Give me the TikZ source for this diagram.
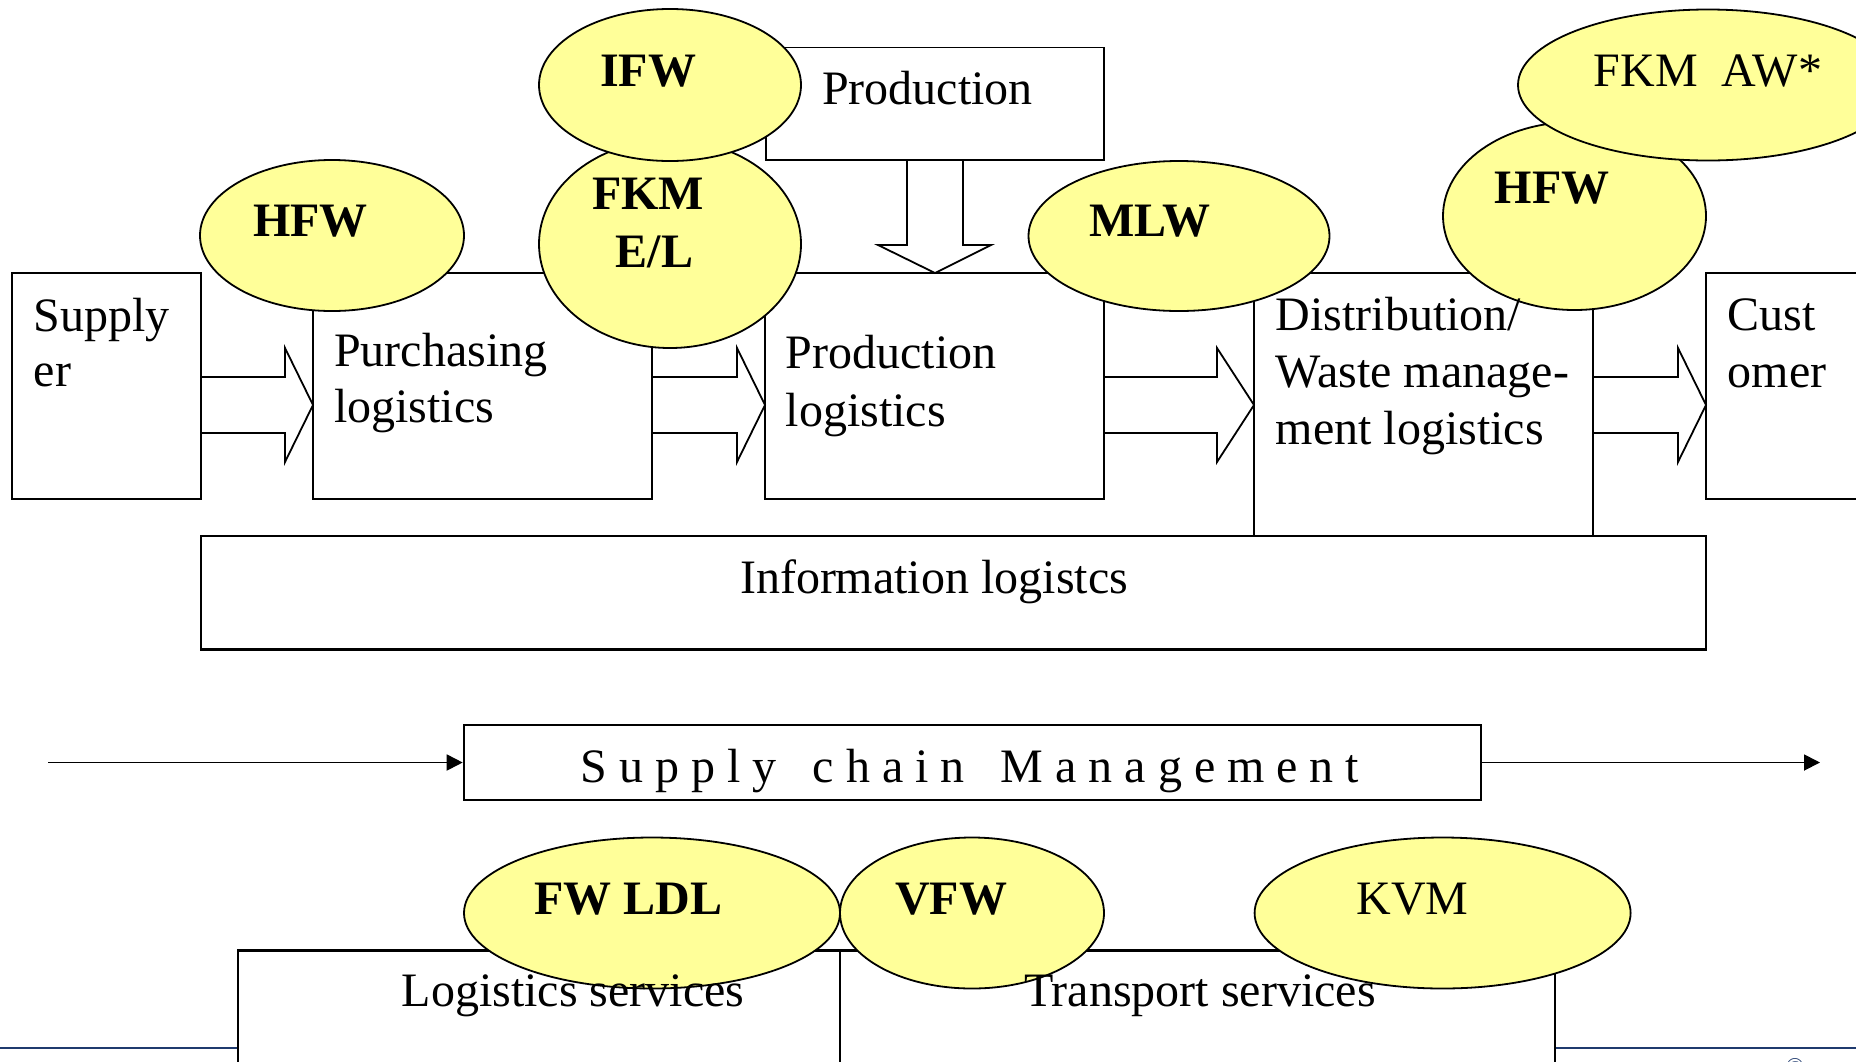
\documentclass[tikz,border=0pt]{standalone}
\usepackage{fontspec}
\setmainfont{Liberation Serif}
\usetikzlibrary{arrows.meta,shapes.geometric}
\definecolor{ellfill}{RGB}{255,255,153}
\definecolor{navyline}{RGB}{31,58,110}
\begin{document}
\begin{tikzpicture}[x=1pt,y=-1pt,
  box/.style={draw=black,line width=1.8pt,fill=white,inner sep=0pt,rectangle},
  heavybox/.style={box,line width=2.6pt},
  ell/.style={draw=black,line width=1.8pt,fill=ellfill,ellipse,inner sep=0pt},
  blockarr/.style={draw=black,line width=1.8pt,fill=white,line join=miter},
  txt/.style={inner sep=0pt,anchor=base west,font=\fontsize{48}{57}\selectfont},
  ctxt/.style={inner sep=0pt,anchor=base,font=\fontsize{48}{57}\selectfont},
  btxt/.style={inner sep=0pt,anchor=base,font=\fontsize{48}{57}\selectfont\bfseries},
  conn/.style={draw=black,line width=1.8pt,-{Triangle[length=16pt,width=16pt]}}]
\useasboundingbox (0,0) rectangle (1856,1061);
\fill[white] (0,0) rectangle (1856,1061);

% bottom rule
\coordinate (ruleL) at (0,1048);
\coordinate (ruleR) at (1856,1048);
\draw[navyline,line width=2.6pt] (ruleL) -- (ruleR);
\node[inner sep=0pt,anchor=base,font=\fontsize{24}{28}\selectfont,text=navyline] (copy) at (1795,1074) {©};

% boxes
\node[box,minimum width=189,minimum height=226] (sup) at (106.5,386) {};
\node[box,minimum width=339,minimum height=226] (pur) at (482.5,386) {};
\node[box,minimum width=339,minimum height=226] (prl) at (934.5,386) {};
\node[box,minimum width=338,minimum height=112.5] (prod) at (935,103.75) {};
\node[box,minimum width=339,minimum height=263] (dist) at (1423.5,404.5) {};
\node[box,minimum width=194,minimum height=226] (cust) at (1803,386) {};
\node[heavybox,minimum width=1505,minimum height=113.5] (info) at (953.5,592.75) {};
\node[heavybox,minimum width=1017,minimum height=75] (scm) at (972.5,762.5) {};
\node[box,minimum width=602,minimum height=169] (lsv) at (539,1035.5) {};
\node[box,minimum width=715,minimum height=169] (tsv) at (1197.5,1035.5) {};
\draw[black,line width=2.6pt] (lsv.north west) -- (tsv.north east);

% block arrows
\draw[blockarr] (202,377) -- (285,377) -- (285,348) -- (313,405) -- (285,462) -- (285,433) -- (202,433);
\draw[blockarr] (653,377) -- (737,377) -- (737,348) -- (765,405) -- (737,462) -- (737,433) -- (653,433);
\draw[blockarr] (1105,377) -- (1217,377) -- (1217,348) -- (1254,405) -- (1217,462) -- (1217,433) -- (1105,433);
\draw[blockarr] (1594,377) -- (1678,377) -- (1678,348) -- (1706,405) -- (1678,462) -- (1678,433) -- (1594,433);
\draw[blockarr] (907,161) -- (907,245) -- (878,245) -- (935,273) -- (991,245) -- (963,245) -- (963,161);

% supply chain connectors
\coordinate (scmstart) at (48,762.5);
\coordinate (scmend) at (1820,762.5);
\draw[conn] (scmstart) -- (scm.west);
\draw[conn] (scm.east) -- (scmend);

% ellipses
\node[ell,minimum width=264,minimum height=151] (hfwL) at (332,235.5) {};
\node[ell,minimum width=262,minimum height=208] (fkmel) at (670,244) {};
\node[ell,minimum width=262,minimum height=152] (ifw) at (670,85) {};
\node[ell,minimum width=301,minimum height=150] (mlw) at (1179,236) {};
\node[ell,minimum width=263,minimum height=188] (hfwR) at (1574.5,216) {};
\node[ell,minimum width=380,minimum height=151] (fkmaw) at (1708,85) {};
\node[ell,minimum width=376,minimum height=151] (fwldl) at (652,913) {};
\node[ell,minimum width=264,minimum height=151] (vfw) at (972,913) {};
\node[ell,minimum width=376,minimum height=151] (kvm) at (1442.6,913) {};

% ellipse labels
\node[btxt] (hfwLt) at (310.6,236.7) {HFW};
\node[btxt] (ifwt) at (648,86) {IFW};
\node[btxt] (fkmt1) at (648,209.3) {FKM};
\node[btxt] (fkmt2) at (654.6,267.7) {E/L};
\node[btxt] (mlwt) at (1149.6,236.8) {MLW};
\node[btxt] (hfwRt) at (1552,203.6) {HFW};
\node[ctxt] (fkmawt) at (1708,86) {FKM\ \ AW*};
\node[btxt] (fwldlt) at (628.5,914) {FW LDL};
\node[btxt] (vfwt) at (951,914) {VFW};
\node[ctxt] (kvmt) at (1412.5,914) {KVM};

% box texts
\node[txt] (supt1) at (33.7,331.7) {Supply};
\node[txt] (supt2) at (33.7,386.7) {er};
\node[txt] (purt1) at (334,366) {Purchasing};
\node[txt] (purt2) at (334,422.7) {logistics};
\node[txt] (prodt) at (822,104.6) {Production};
\node[txt] (prlt1) at (785.7,368) {Production};
\node[txt] (prlt2) at (785.7,426.8) {logistics};
\node[txt] (distt1) at (1275.5,330) {Distribution/};
\node[txt] (distt2) at (1275.5,387.5) {Waste manage-};
\node[txt] (distt3) at (1275.5,444.6) {ment logistics};
\node[txt] (custt1) at (1727.7,330.7) {Cust};
\node[txt] (custt2) at (1727.7,387.7) {omer};
\node[ctxt] (infot) at (934,593) {Information logistcs};
\node[ctxt] (scmt) at (970,782) {S u p p l y\ \ \ c h a i n\ \ \ M a n a g e m e n t};
\node[ctxt] (lsvt) at (573,1006.7) {Logistics services};
\node[ctxt] (tsvt) at (1200,1006.7) {Transport services};
\end{tikzpicture}
\end{document}
